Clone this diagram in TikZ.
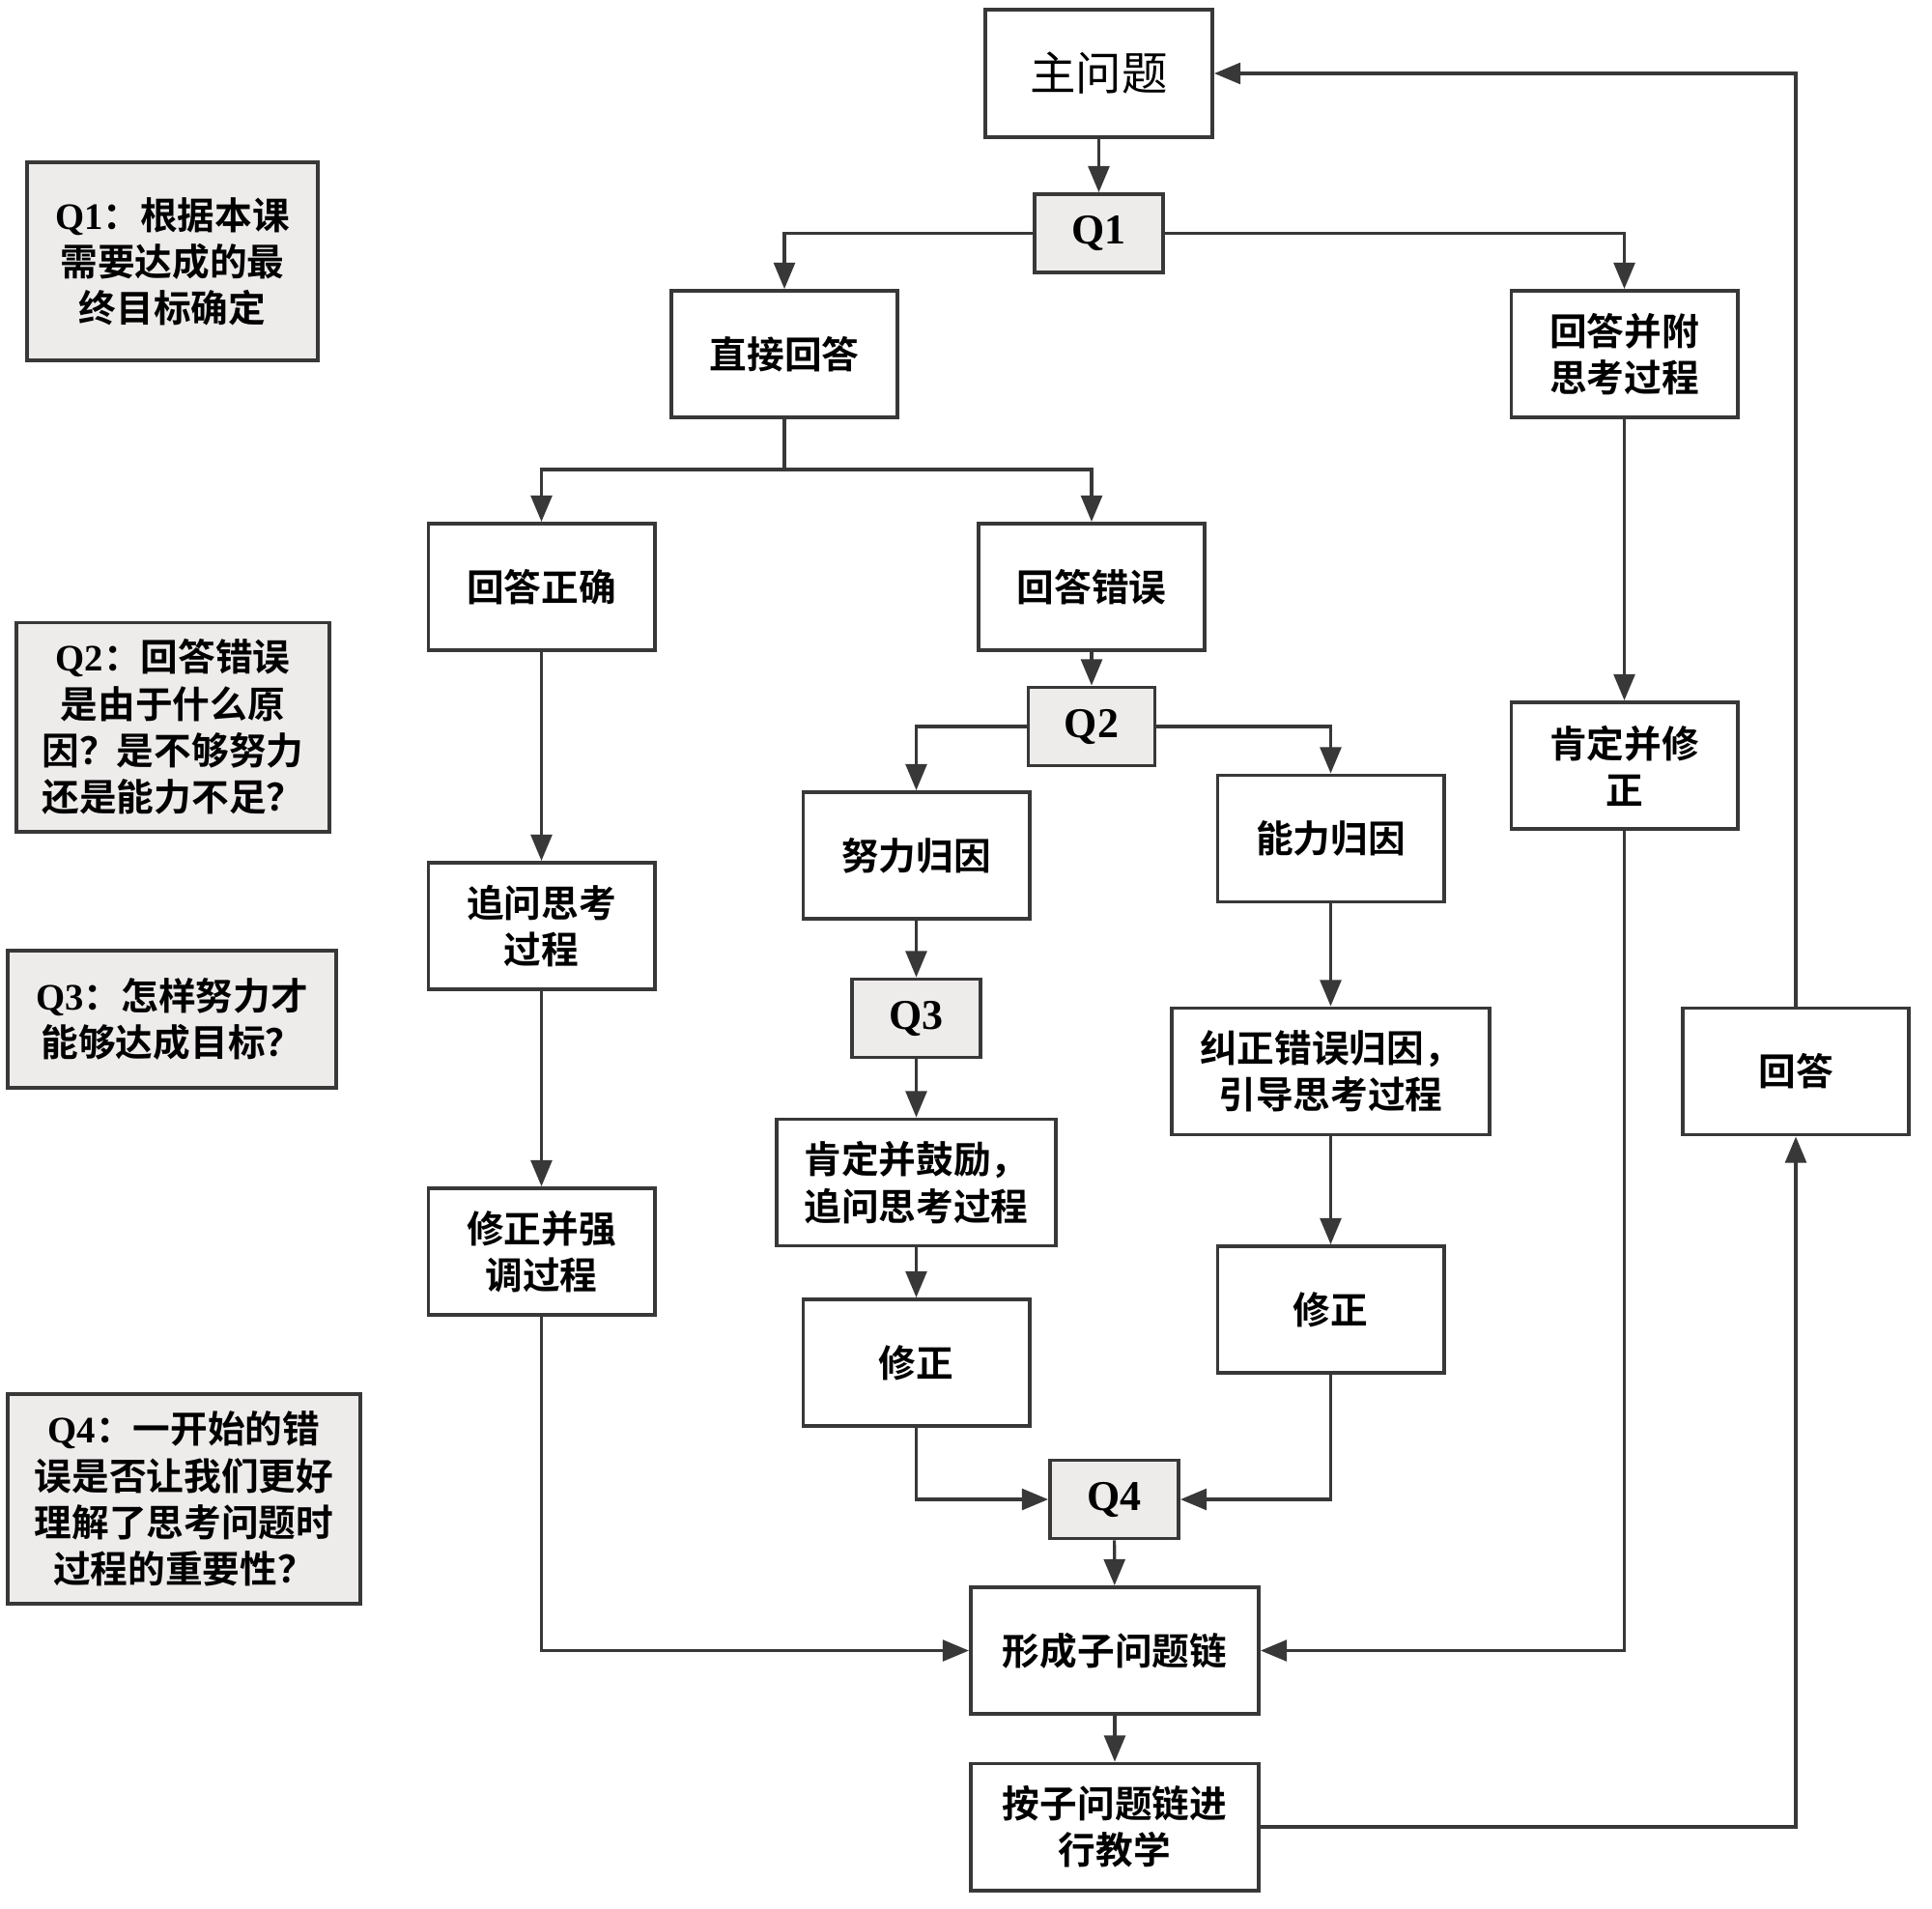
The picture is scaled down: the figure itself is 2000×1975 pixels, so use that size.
\documentclass[tikz,border=0pt]{standalone}
\usepackage{fontspec}
\setmainfont{Liberation Serif}
\newfontfamily\cjk{Noto Sans CJK SC}[BoldFont={Noto Sans CJK SC Bold}]
\usetikzlibrary{arrows.meta, positioning, calc}
\usepackage{xcolor}
\definecolor{linegray}{HTML}{383838}
\definecolor{qfill}{HTML}{EEEBEB}
\tikzset{
    stepbox/.style={
        rectangle, draw=linegray, fill=white, line width=1.1pt,
        minimum width=2.34cm, minimum height=1.31cm, inner sep=2pt,
        font=\cjk\bfseries\fontsize{11}{13.7}\selectfont, align=center
    },
    qbox/.style={
        rectangle, draw=linegray, fill=qfill, line width=1.1pt,
        minimum width=1.33cm, minimum height=0.81cm, inner sep=1pt,
        font=\bfseries\fontsize{12.5}{14}\selectfont
    },
    note/.style={
        rectangle, draw=linegray, fill=qfill, line width=1.1pt,
        inner sep=2pt, align=center,
        font=\cjk\bfseries\fontsize{11}{13.7}\selectfont
    },
    arrow/.style={-{Triangle[length=7.7pt,width=6.2pt]}, line width=0.9pt, draw=linegray},
    link/.style={line width=0.9pt, draw=linegray}
}

\begin{document}
\begin{tikzpicture}[x=0.01cm, y=-0.01cm]
    \useasboundingbox (0,0) rectangle (2000,1975);

    % notes on the left
    \node[note, minimum width=3.01cm, minimum height=2.05cm] (n1) at (178.5,270.5)
        {{\rmfamily Q1}：根据本课\\需要达成的最\\终目标确定};
    \node[note, minimum width=3.24cm, minimum height=2.16cm] (n2) at (179,752.5)
        {{\rmfamily Q2}：回答错误\\是由于什么原\\因？是不够努力\\还是能力不足？};
    \node[note, minimum width=3.40cm, minimum height=1.42cm] (n3) at (178,1055)
        {{\rmfamily Q3}：怎样努力才\\能够达成目标？};
    \node[note, minimum width=3.65cm, minimum height=2.17cm] (n4) at (190.5,1551.5)
        {{\rmfamily Q4}：一开始的错\\误是否让我们更好\\理解了思考问题时\\过程的重要性？};

    % main flow
    \node[stepbox, font=\cjk\fontsize{13.5}{16}\selectfont, minimum width=2.35cm, minimum height=1.32cm] (main) at (1137.5,76) {主问题};
    \node[qbox] (q1) at (1137.5,241.5) {Q1};
    \node[stepbox] (direct) at (812,366.5) {直接回答};
    \node[stepbox] (withproc) at (1681.5,366.5) {回答并附\\思考过程};
    \node[stepbox] (correct) at (560.5,607.5) {回答正确};
    \node[stepbox] (wrong) at (1130,607.5) {回答错误};
    \node[qbox, minimum width=1.31cm] (q2) at (1130,752) {Q2};
    \node[stepbox] (effort) at (948.5,885.5) {努力归因};
    \node[stepbox] (ability) at (1377.5,868) {能力归因};
    \node[stepbox] (affirm) at (1681.5,792.5) {肯定并修\\正};
    \node[stepbox] (ask) at (560.5,958.5) {追问思考\\过程};
    \node[qbox] (q3) at (948.5,1054) {Q3};
    \node[stepbox, minimum width=2.88cm] (encourage) at (948.5,1224) {肯定并鼓励，\\追问思考过程};
    \node[stepbox, minimum width=3.29cm] (reattr) at (1377.5,1109) {纠正错误归因，\\引导思考过程};
    \node[stepbox] (answer) at (1859,1109) {回答};
    \node[stepbox] (stress) at (560.5,1295.5) {修正并强\\调过程};
    \node[stepbox] (fixl) at (948.5,1410.5) {修正};
    \node[stepbox] (fixr) at (1377.5,1355.5) {修正};
    \node[qbox] (q4) at (1153.5,1552) {Q4};
    \node[stepbox, minimum width=2.98cm] (chain) at (1154,1708.5) {形成子问题链};
    \node[stepbox, minimum width=2.98cm] (teach) at (1154,1891) {按子问题链进\\行教学};

    \coordinate (split) at (812,486);

    % connectors
    \draw[arrow] (main) -- (q1);
    \draw[arrow] (q1.west) -| (direct.north);
    \draw[arrow] (q1.east) -| (withproc.north);
    \draw[link] (direct.south) -- (split);
    \draw[arrow] (split) -| (correct.north);
    \draw[arrow] (split) -| (wrong.north);
    \draw[arrow] (wrong) -- (q2);
    \draw[arrow] (q2.west) -| (effort.north);
    \draw[arrow] (q2.east) -| (ability.north);
    \draw[arrow] (effort) -- (q3);
    \draw[arrow] (q3) -- (encourage);
    \draw[arrow] (encourage) -- (fixl);
    \draw[arrow] (ability) -- (reattr);
    \draw[arrow] (reattr) -- (fixr);
    \draw[arrow] (fixl.south) |- (q4.west);
    \draw[arrow] (fixr.south) |- (q4.east);
    \draw[arrow] (q4) -- (chain);
    \draw[arrow] (correct) -- (ask);
    \draw[arrow] (ask) -- (stress);
    \draw[arrow] (stress.south) |- (chain.west);
    \draw[arrow] (withproc) -- (affirm);
    \draw[arrow] (affirm.south) |- (chain.east);
    \draw[arrow] (chain) -- (teach);
    \draw[arrow] (teach.east) -| (answer.south);
    \draw[arrow] (answer.north) |- (main.east);
\end{tikzpicture}
\end{document}
